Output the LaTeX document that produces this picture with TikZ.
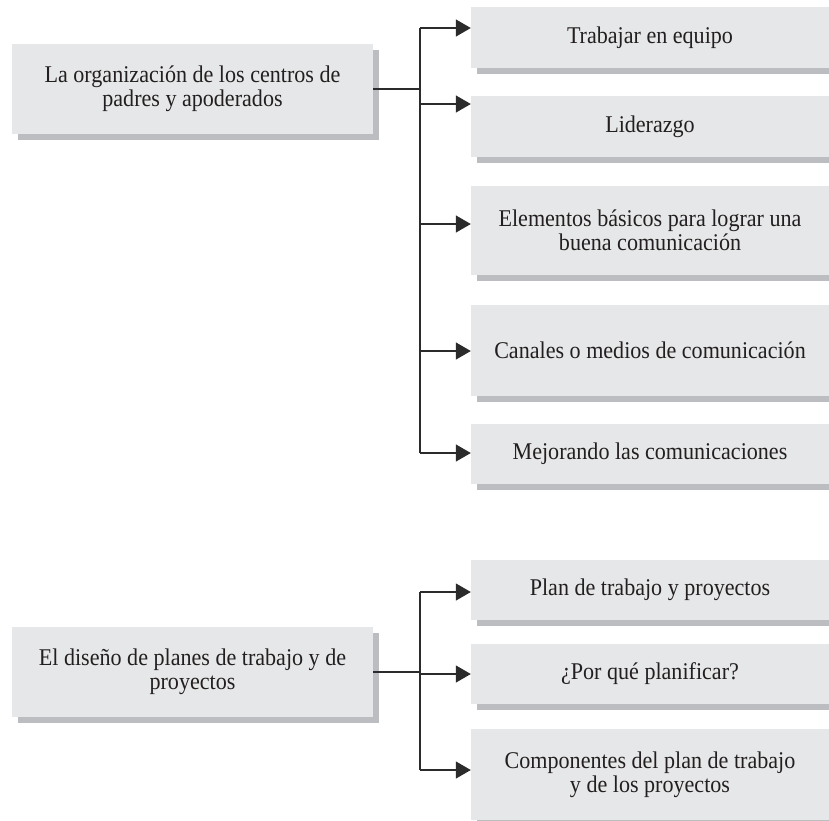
\documentclass[tikz,border=0pt]{standalone}
\usepackage{fontspec}
\setmainfont{Liberation Serif}[FakeStretch=0.92]
\usetikzlibrary{arrows.meta,shadows}
\definecolor{cajagris}{HTML}{E6E7E8}
\definecolor{sombragris}{HTML}{BCBDC0}
\definecolor{linea}{HTML}{2B2B2B}
\definecolor{texto}{HTML}{231F20}
\tikzset{caja/.style={fill=cajagris,inner sep=0pt,align=center,text=texto,font=\fontsize{24}{24}\selectfont,drop shadow={shadow xshift=6pt,shadow yshift=-6pt,fill=sombragris,opacity=1}},
  ancha/.style={caja,minimum width=358pt},
  tronco/.style={draw=linea,line width=1.3pt},
  enlace/.style={tronco,-{Triangle[length=15pt,width=17pt]}},}
\newcommand{\rama}[2]{\path[enlace] (#1) -- (#2.west |- #1);}
\begin{document}
\begin{tikzpicture}[x=1pt,y=-1pt]
        \useasboundingbox (0,0) rectangle (829,820);

        % primer bloque
        \node[caja, minimum width=361pt, minimum height=90pt] (org) at (192.5,89) {La organización de los centros de\\padres y apoderados};
        \node[ancha, minimum height=61pt] (equipo) at (650,37.5) {Trabajar en equipo};
        \node[ancha, minimum height=61pt] (lider) at (650,126.5) {Liderazgo};
        \node[ancha, minimum height=89pt] (elem) at (650,230.5) {Elementos básicos para lograr una\\buena comunicación};
        \node[ancha, minimum height=91pt] (canal) at (650,350.5) {Canales o medios de comunicación};
        \node[ancha, minimum height=60pt] (mejora) at (650,454) {Mejorando las comunicaciones};

        \coordinate (a1) at (420,28);
        \coordinate (a2) at (420,104);
        \coordinate (a3) at (420,224);
        \coordinate (a4) at (420,351);
        \coordinate (a5) at (420,453);

        \draw[tronco] (a1) -- (a5);
        \draw[tronco] (org.east) -- (org.east -| a1);
        \rama{a1}{equipo}
        \rama{a2}{lider}
        \rama{a3}{elem}
        \rama{a4}{canal}
        \rama{a5}{mejora}

        % segundo bloque
        \node[caja, minimum width=361pt, minimum height=90pt] (diseno) at (192.5,672) {El diseño de planes de trabajo y de\\proyectos};
        \node[ancha, minimum height=60pt] (plan) at (650,590) {Plan de trabajo y proyectos};
        \node[ancha, minimum height=60pt] (porque) at (650,674) {¿Por qué planificar?};
        \node[ancha, minimum height=91pt] (comp) at (650,774.5) {Componentes del plan de trabajo\\y de los proyectos};

        \coordinate (b1) at (420,592);
        \coordinate (b2) at (420,674);
        \coordinate (b3) at (420,770);

        \draw[tronco] (b1) -- (b3);
        \draw[tronco] (diseno.east) -- (diseno.east -| b1);
        \rama{b1}{plan}
        \rama{b2}{porque}
        \rama{b3}{comp}
\end{tikzpicture}
\end{document}
